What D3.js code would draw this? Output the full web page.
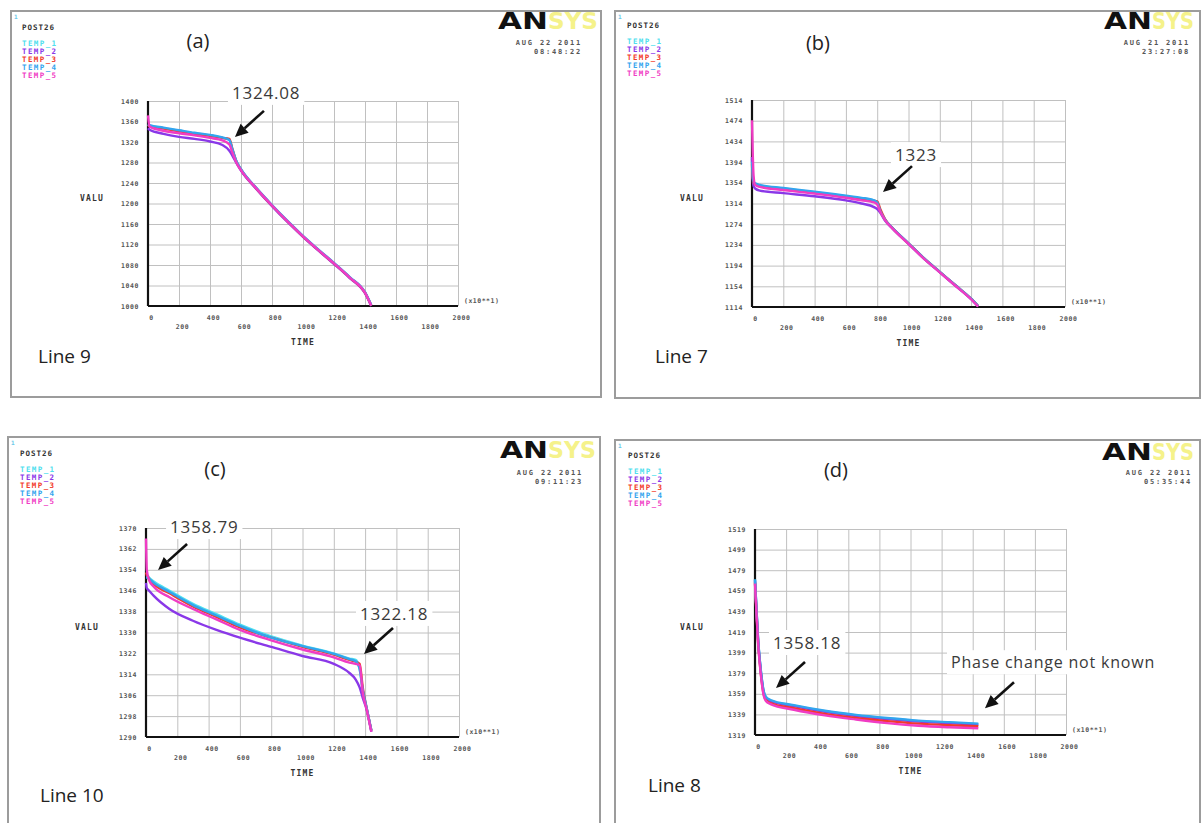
<!DOCTYPE html>
<html>
<head>
<meta charset="utf-8">
<style>
body { margin: 0; background: #fff; }
.mono { font-family: "DejaVu Sans Mono", monospace; font-weight: bold; }
.word { font-family: "Open Sans", "Liberation Sans", sans-serif; }
</style>
</head>
<body>
<script src="https://d3js.org/d3.v7.min.js"></script>
<script>
var width = 1203, height = 823;

// ---- shared
var seriesNames = ["TEMP_1", "TEMP_2", "TEMP_3", "TEMP_4", "TEMP_5"];
var seriesColors = ["#4fe0ee", "#8a38e8", "#f23a2a", "#33a4ee", "#f03cc4"];
var xTicks = [0, 200, 400, 600, 800, 1000, 1200, 1400, 1600, 1800, 2000];

// ---- panel (a), Line 9
var yTicksA = [1000, 1040, 1080, 1120, 1160, 1200, 1240, 1280, 1320, 1360, 1400];
var timeA = [0, 10, 100, 200, 300, 400, 480, 525, 545, 570, 600, 700, 800, 900, 1000, 1100, 1200, 1300, 1400, 1440];
var a1 = [1354, 1352, 1347, 1342, 1337, 1333, 1328, 1324, 1304, 1282, 1266, 1229, 1196, 1165, 1136, 1109, 1083, 1056, 1026, 1002];
var a2 = [1347, 1344, 1336, 1330, 1326, 1321, 1314, 1303, 1293, 1279, 1264, 1228, 1195, 1164, 1135, 1108, 1082, 1055, 1025, 1000];
var a3 = [1353, 1351, 1346, 1341, 1336, 1332, 1328, 1326, 1306, 1282, 1266, 1229, 1196, 1165, 1136, 1109, 1083, 1056, 1026, 1001];
var a4 = [1355, 1353, 1348, 1343, 1338, 1334, 1329, 1324, 1305, 1283, 1267, 1230, 1197, 1166, 1137, 1110, 1084, 1057, 1027, 1002];
var a5 = [1372, 1350, 1342, 1337, 1333, 1328, 1323, 1315, 1299, 1280, 1265, 1229, 1196, 1165, 1136, 1109, 1083, 1056, 1026, 1001];

// ---- panel (b), Line 7
var yTicksB = [1114, 1154, 1194, 1234, 1274, 1314, 1354, 1394, 1434, 1474, 1514];
var timeB = [0, 4, 10, 20, 50, 200, 400, 600, 700, 780, 800, 820, 850, 900, 1000, 1100, 1200, 1300, 1400, 1445];
var b1 = [1400, 1370, 1356, 1352, 1349, 1343, 1336, 1328, 1324, 1320, 1316, 1300, 1283, 1266, 1237, 1208, 1182, 1156, 1130, 1116];
var b2 = [1404, 1365, 1348, 1343, 1339, 1334, 1328, 1320, 1314, 1307, 1303, 1296, 1281, 1265, 1236, 1207, 1181, 1155, 1129, 1115];
var b3 = [1390, 1368, 1355, 1351, 1348, 1342, 1335, 1327, 1323, 1319, 1318, 1303, 1284, 1266, 1237, 1208, 1182, 1156, 1130, 1116];
var b4 = [1395, 1372, 1357, 1353, 1350, 1344, 1337, 1329, 1325, 1320, 1316, 1299, 1283, 1266, 1237, 1208, 1182, 1156, 1130, 1116];
var b5 = [1475, 1420, 1368, 1350, 1346, 1340, 1333, 1325, 1320, 1316, 1312, 1298, 1282, 1265, 1236, 1207, 1181, 1155, 1129, 1115];

// ---- panel (c), Line 10
var yTicksC = [1290, 1298, 1306, 1314, 1322, 1330, 1338, 1346, 1354, 1362, 1370];
var timeC = [0, 5, 20, 50, 150, 300, 450, 600, 800, 1000, 1200, 1300, 1340, 1365, 1385, 1410, 1440];
var c1 = [1352, 1352, 1351, 1349.5, 1346, 1341, 1337, 1333, 1328.5, 1325, 1322, 1320, 1319.5, 1316, 1308, 1301, 1292.5];
var c2 = [1349, 1347, 1346, 1344, 1339, 1334.5, 1331, 1328, 1324.5, 1321, 1318, 1314.5, 1312, 1309, 1305, 1300.5, 1292];
var c3 = [1353, 1352, 1350.5, 1348.5, 1345, 1340, 1336, 1332, 1328, 1324.5, 1321.5, 1319.5, 1318.8, 1318, 1309, 1301, 1292.5];
var c4 = [1351, 1351, 1350.5, 1349, 1345.5, 1340.5, 1336.5, 1332.5, 1328, 1324.8, 1321.8, 1319.8, 1319, 1316, 1308, 1301, 1292.5];
var c5 = [1366, 1354, 1350, 1347.5, 1343.5, 1339, 1335, 1331, 1327, 1323.5, 1320.5, 1318.5, 1318, 1317.5, 1307, 1300.5, 1292];

// ---- panel (d), Line 8
var yTicksD = [1319, 1339, 1359, 1379, 1399, 1419, 1439, 1459, 1479, 1499, 1519];
var timeD = [0, 10, 20, 32, 45, 55, 70, 100, 250, 450, 650, 850, 1050, 1250, 1436];
var dd1 = [1470, 1440, 1412, 1390, 1372, 1362, 1356, 1352.5, 1347.5, 1342, 1338, 1335, 1332.5, 1331, 1329.5];
var dd2 = [1469, 1439, 1411, 1389, 1371, 1361, 1355, 1352, 1347, 1341.5, 1337.5, 1334.5, 1332, 1330.5, 1329];
var dd3 = [1467, 1437, 1409, 1387, 1369, 1359, 1353, 1350, 1345, 1339.5, 1335.5, 1332.5, 1330, 1328.5, 1327.5];
var dd4 = [1470, 1440, 1412, 1390, 1372, 1362, 1356, 1353, 1348, 1342.5, 1338.5, 1335.5, 1333, 1331.5, 1330];
var dd5 = [1466, 1436, 1408, 1386, 1368, 1358, 1352, 1349, 1343.5, 1338, 1334, 1330.5, 1328, 1326.5, 1325.5];

// layout of the four frames (positions only)
var panels = [
  { id: "(a)", label: "Line 9", date: "AUG 22 2011", clock: "08:48:22",
    yTicks: yTicksA, time: timeA, series: [a1, a2, a3, a4, a5],
    frame: [11, 11, 590, 386], plot: [148, 101, 458, 306],
    title: [198, 48], line: [38, 363], post: [22, 30], valu: [80, 201],
    logo: [498, 29, 50, 50], dateAt: [582, 45],
    notes: [{ text: "1324.08", tip: [561, 1330], dx: -3, dy: -38 }] },
  { id: "(b)", label: "Line 7", date: "AUG 21 2011", clock: "23:27:08",
    yTicks: yTicksB, time: timeB, series: [b1, b2, b3, b4, b5],
    frame: [615, 11, 585, 387], plot: [752, 100, 1065, 307],
    title: [818, 50], line: [655, 363], post: [627, 28], valu: [680, 201],
    logo: [1104, 29, 48, 42], dateAt: [1190, 45],
    notes: [{ text: "1323", tip: [837, 1336], dx: 12, dy: -31 }] },
  { id: "(c)", label: "Line 10", date: "AUG 22 2011", clock: "09:11:23",
    yTicks: yTicksC, time: timeC, series: [c1, c2, c3, c4, c5],
    frame: [8, 437, 592, 400], plot: [146, 528, 459, 737],
    title: [215, 476], line: [40, 802], post: [20, 456], valu: [75, 630],
    logo: [500, 458, 48, 48], dateAt: [583, 475],
    notes: [{ text: "1358.79", tip: [77, 1353.9], dx: 12, dy: -37 },
            { text: "1322.18", tip: [1393, 1321.8], dx: -4, dy: -34 }] },
  { id: "(d)", label: "Line 8", date: "AUG 22 2011", clock: "05:35:44",
    yTicks: yTicksD, time: timeD, series: [dd1, dd2, dd3, dd4, dd5],
    frame: [615, 440, 585, 400], plot: [755, 529, 1066, 735],
    title: [836, 477], line: [648, 792], post: [628, 458], valu: [680, 630],
    logo: [1102, 460, 50, 42], dateAt: [1192, 475],
    notes: [{ text: "1358.18", tip: [135, 1364.6], dx: -3, dy: -39 },
            { text: "Phase change not known", tip: [1479, 1345], dx: -34, dy: -40, size: 16 }] }
];

var svg = d3.select("body").append("svg")
    .attr("width", width)
    .attr("height", height);

svg.append("rect").attr("width", width).attr("height", height).attr("fill", "#fff");

function drawPanel(p) {
  var g = svg.append("g");
  var f = p.frame;

  g.append("rect")
    .attr("x", f[0]).attr("y", f[1]).attr("width", f[2]).attr("height", f[3])
    .attr("fill", "#fff").attr("stroke", "#9c9c9c").attr("stroke-width", 2);

  // tiny window number
  g.append("text").attr("class", "mono").attr("x", f[0] + 3).attr("y", f[1] + 8)
    .attr("font-size", 6).attr("fill", "#6cc8e8").text("1");

  // POST26 + legend
  g.append("text").attr("class", "mono").attr("x", p.post[0]).attr("y", p.post[1])
    .attr("font-size", 7.5).attr("letter-spacing", 1).attr("fill", "#333").text("POST26");
  g.selectAll(".leg").data(seriesNames).join("text")
    .attr("class", "mono")
    .attr("x", p.post[0]).attr("y", function(d, i) { return p.post[1] + 16 + i * 8; })
    .attr("font-size", 7.5).attr("letter-spacing", 1.4)
    .attr("fill", function(d, i) { return seriesColors[i]; })
    .text(function(d) { return d; });

  // ANSYS logo and date
  g.append("text").attr("x", p.logo[0]).attr("y", p.logo[1])
    .attr("font-family", "DejaVu Sans").attr("font-weight", "bold").attr("font-size", 23)
    .attr("textLength", p.logo[2]).attr("lengthAdjust", "spacingAndGlyphs")
    .attr("fill", "#111").text("AN");
  g.append("text").attr("x", p.logo[0] + p.logo[2]).attr("y", p.logo[1])
    .attr("font-family", "DejaVu Sans").attr("font-weight", "bold").attr("font-size", 23)
    .attr("textLength", p.logo[3]).attr("lengthAdjust", "spacingAndGlyphs")
    .attr("fill", "#f5f28a").text("SYS");
  g.append("text").attr("class", "mono").attr("x", p.dateAt[0]).attr("y", p.dateAt[1])
    .attr("text-anchor", "end").attr("font-size", 7).attr("letter-spacing", 1.8)
    .attr("fill", "#555").text(p.date);
  g.append("text").attr("class", "mono").attr("x", p.dateAt[0]).attr("y", p.dateAt[1] + 9)
    .attr("text-anchor", "end").attr("font-size", 7).attr("letter-spacing", 1.8)
    .attr("fill", "#555").text(p.clock);

  // titles
  g.append("text").attr("class", "word").attr("x", p.title[0]).attr("y", p.title[1])
    .attr("text-anchor", "middle").attr("font-size", 20).attr("fill", "#222").text(p.id);
  g.append("text").attr("class", "word").attr("x", p.line[0]).attr("y", p.line[1])
    .attr("font-size", 19).attr("fill", "#222").text(p.label);

  // scales
  var pl = p.plot;
  var x = d3.scaleLinear().domain([0, 2000]).range([pl[0], pl[2]]);
  var y = d3.scaleLinear().domain([p.yTicks[0], p.yTicks[p.yTicks.length - 1]]).range([pl[3], pl[1]]);
  var pw = pl[2] - pl[0], ph = pl[3] - pl[1];

  // y grid + labels
  var ya = g.append("g").attr("transform", "translate(" + pl[0] + ",0)")
    .call(d3.axisLeft(y).tickValues(p.yTicks).tickSize(-pw).tickPadding(9).tickFormat(d3.format("d")));
  // x grid
  var xg = g.append("g").attr("transform", "translate(0," + pl[3] + ")")
    .call(d3.axisBottom(x).tickValues(xTicks).tickSize(-ph).tickFormat(""));
  // staggered x labels
  var xl1 = g.append("g").attr("transform", "translate(3," + pl[3] + ")")
    .call(d3.axisBottom(x).tickValues(xTicks.filter(function(d, i) { return i % 2 === 0; }))
      .tickSize(0).tickPadding(9).tickFormat(d3.format("d")));
  var xl2 = g.append("g").attr("transform", "translate(3," + pl[3] + ")")
    .call(d3.axisBottom(x).tickValues(xTicks.filter(function(d, i) { return i % 2 === 1; }))
      .tickSize(0).tickPadding(18).tickFormat(d3.format("d")));

  [ya, xg, xl1, xl2].forEach(function(a) {
    a.select(".domain").remove();
    a.selectAll("line").attr("stroke", "#c0c0c0").attr("stroke-width", 1);
    a.selectAll("text").attr("class", "mono").attr("font-size", 6.5)
      .attr("letter-spacing", 0.6).attr("fill", "#555");
  });

  // black axis lines
  g.append("line").attr("x1", pl[0]).attr("x2", pl[0]).attr("y1", pl[1]).attr("y2", pl[3])
    .attr("stroke", "#111").attr("stroke-width", 2.2);
  g.append("line").attr("x1", pl[0]).attr("x2", pl[2]).attr("y1", pl[3]).attr("y2", pl[3])
    .attr("stroke", "#111").attr("stroke-width", 2.2);

  g.append("text").attr("class", "mono").attr("x", p.valu[0]).attr("y", p.valu[1])
    .attr("font-size", 8).attr("letter-spacing", 1.2).attr("fill", "#333").text("VALU");
  g.append("text").attr("class", "mono").attr("x", (pl[0] + pl[2]) / 2).attr("y", pl[3] + 39)
    .attr("text-anchor", "middle").attr("font-size", 8).attr("letter-spacing", 1.2)
    .attr("fill", "#333").text("TIME");
  g.append("text").attr("class", "mono").attr("x", pl[2] + 6).attr("y", pl[3] - 3)
    .attr("font-size", 6.5).attr("letter-spacing", 0.5).attr("fill", "#555").text("(x10**1)");

  // curves
  var line = d3.line()
    .x(function(d) { return x(d[0]); })
    .y(function(d) { return y(d[1]); })
    .curve(d3.curveMonotoneX);
  p.series.forEach(function(vals, i) {
    g.append("path")
      .datum(p.time.map(function(t, j) { return [t, vals[j]]; }))
      .attr("d", line)
      .attr("fill", "none")
      .attr("stroke", seriesColors[i])
      .attr("stroke-width", 2.4)
      .attr("stroke-linejoin", "round");
  });

  // annotations with arrows
  p.notes.forEach(function(n) {
    var tx = x(n.tip[0]), ty = y(n.tip[1]);
    var sx = tx + 29, sy = ty - 26;
    var t = g.append("text").attr("class", "word")
      .attr("x", tx + n.dx).attr("y", ty + n.dy)
      .attr("font-size", n.size || 17).attr("letter-spacing", 0.8)
      .attr("fill", "#3a3a3a").text(n.text);
    var bb = t.node().getBBox();
    g.insert("rect", function() { return t.node(); })
      .attr("x", bb.x - 4).attr("y", bb.y - 1).attr("width", bb.width + 8).attr("height", bb.height + 2)
      .attr("fill", "#fff");
    var ang = Math.atan2(ty - sy, tx - sx);
    var L = 13, W = 6;
    var bx = tx - L * Math.cos(ang), by = ty - L * Math.sin(ang);
    g.append("line").attr("x1", sx).attr("y1", sy).attr("x2", bx).attr("y2", by)
      .attr("stroke", "#111").attr("stroke-width", 2.6);
    g.append("path")
      .attr("d", "M" + tx + "," + ty +
        "L" + (bx + W * Math.sin(ang)) + "," + (by - W * Math.cos(ang)) +
        "L" + (bx - W * Math.sin(ang)) + "," + (by + W * Math.cos(ang)) + "Z")
      .attr("fill", "#111");
  });
}

panels.forEach(drawPanel);
</script>
</body>
</html>
